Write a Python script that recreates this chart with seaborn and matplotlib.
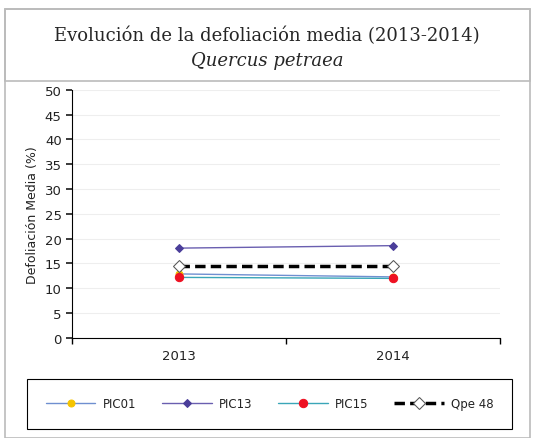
import numpy as np
import pandas as pd
import matplotlib
matplotlib.use("Agg")
import matplotlib.pyplot as plt
import seaborn as sns
from matplotlib.patches import Rectangle

# Data
years = ["2013", "2014"]
pic01 = [12.9, 12.3]
pic13 = [18.1, 18.6]
pic15 = [12.2, 12.0]
qpe48 = [14.5, 14.5]

series_names = ["PIC01", "PIC13", "PIC15", "Qpe 48"]
yticks = list(range(0, 55, 5))

df = pd.DataFrame({
    "pos": list(range(len(years))) * 4,
    "value": pic01 + pic13 + pic15 + qpe48,
    "serie": [s for s in series_names for _ in years],
})

sns.set_theme(style="white")
plt.rcParams['font.family'] = ['DejaVu Sans']

fig = plt.figure(figsize=(5.34, 4.39), dpi=100)
ax = fig.add_axes([0.135, 0.228, 0.801, 0.565])

styles = {
    "PIC01": dict(color="#6f8fd0", marker="o", mfc="#f5c400", mec="#f5c400", ms=5, lw=1.0, ls="-"),
    "PIC13": dict(color="#6a5fb0", marker="D", mfc="#4b3e9a", mec="#4b3e9a", ms=4, lw=1.0, ls="-"),
    "PIC15": dict(color="#3aa6b8", marker="o", mfc="#ee1122", mec="#ee1122", ms=6, lw=1.0, ls="-"),
    "Qpe 48": dict(color="black", marker="D", mfc="white", mec="#555555", ms=6, lw=2.5, ls=(0, (3, 1.5))),
}

for name in series_names:
    sub = df[df["serie"] == name]
    st = styles[name]
    sns.lineplot(data=sub, x="pos", y="value", ax=ax, label=name,
                 color=st["color"], linewidth=st["lw"], linestyle=st["ls"],
                 marker=st["marker"], markerfacecolor=st["mfc"],
                 markeredgecolor=st["mec"], markersize=st["ms"])

ax.set_xlim(-0.5, 1.5)
ax.set_ylim(0, 50)
ax.set_yticks(yticks)
ax.set_xticks(range(len(years)))
ax.set_xticklabels(years)
ax.set_xticks([-0.5, 0.5, 1.5], minor=True)
ax.tick_params(axis="x", which="major", length=0, labelsize=9.5, colors="#222222", pad=8)
ax.tick_params(axis="x", which="minor", length=4, color="black", direction="out", bottom=True)
ax.tick_params(axis="y", length=4, labelsize=9.5, colors="#222222", direction="out", left=True)
ax.grid(axis="y", color="#eeeeee", linewidth=0.8)
for s in ["top", "right"]:
    ax.spines[s].set_visible(False)
for s in ["left", "bottom"]:
    ax.spines[s].set_color("black")
    ax.spines[s].set_linewidth(0.8)
ax.set_xlabel("")
ax.set_ylabel("Defoliación Media (%)", fontsize=9, color="#222222")
ax.get_legend().remove()

# Frame and title box
fig.patches.append(Rectangle((0.009, 0.0), 0.984, 0.977, transform=fig.transFigure,
                             fill=False, edgecolor="#bbbbbb", linewidth=1.2))
fig.patches.append(Rectangle((0.009, 0.813), 0.984, 0.164, transform=fig.transFigure,
                             fill=False, edgecolor="#bbbbbb", linewidth=1.2))
fig.text(0.5, 0.918, "Evolución de la defoliación media (2013-2014)",
         ha="center", va="center", fontsize=13, family="DejaVu Serif")
fig.text(0.5, 0.862, "Quercus petraea", ha="center", va="center",
         fontsize=13, family="DejaVu Serif", style="italic")

# Legend box
fig.patches.append(Rectangle((0.05, 0.021), 0.909, 0.114, transform=fig.transFigure,
                             fill=False, edgecolor="black", linewidth=0.8))
handles, labels = ax.get_legend_handles_labels()
leg = fig.legend(handles, labels, loc="center", bbox_to_anchor=(0.505, 0.078),
                 ncol=4, frameon=False, fontsize=8.5, handlelength=4.2,
                 handletextpad=0.6, columnspacing=2.2)
for t in leg.get_texts():
    t.set_color("#222222")

fig.savefig("out.png", dpi=100)
